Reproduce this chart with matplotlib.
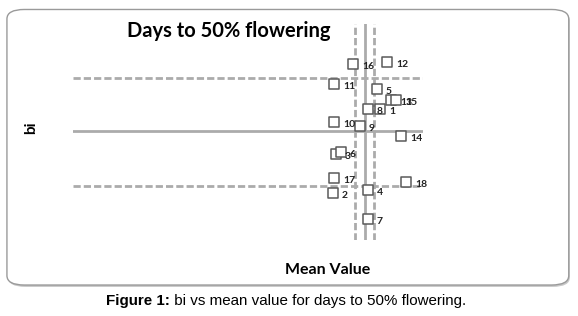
import matplotlib
matplotlib.use('Agg')
import matplotlib.pyplot as plt
from matplotlib.patches import FancyBboxPatch

# genotypes: mean days to 50% flowering and regression coefficient (bi)
genotipos = ['1', '2', '3', '4', '5', '6', '7', '8', '9', '10',
             '11', '12', '13', '14', '15', '16', '17', '18']
media = [61.5, 56.8, 57.1, 60.3, 61.2, 57.6, 60.3, 60.3, 59.5, 56.9,
         56.9, 62.2, 62.6, 63.6, 63.1, 58.8, 56.9, 64.1]
bi = [1.22, 0.38, 0.77, 0.41, 1.42, 0.79, 0.12, 1.22, 1.05, 1.09,
      1.47, 1.69, 1.31, 0.95, 1.31, 1.67, 0.53, 0.49]

media_geral = 60.0
media_lim = [59.0, 60.9]
bi_ref = 1.0
bi_lim = [1.53, 0.45]

fig = plt.figure(figsize=(5.78, 3.16), dpi=100)

# moldura arredondada
sombra = FancyBboxPatch((0.014, 0.092), 0.972, 0.872,
                        boxstyle='round,pad=0,rounding_size=0.03',
                        transform=fig.transFigure, facecolor='#c8c8c8',
                        edgecolor='none', zorder=0)
moldura = FancyBboxPatch((0.012, 0.098), 0.972, 0.872,
                         boxstyle='round,pad=0,rounding_size=0.03',
                         transform=fig.transFigure, facecolor='white',
                         edgecolor='#9a9a9a', linewidth=1.0, zorder=1)
fig.patches.extend([sombra, moldura])

ax = fig.add_axes([0.1263, 0.2405, 0.6055, 0.6835])
ax.set_zorder(2)
ax.patch.set_visible(False)
ax.set_xlim(30.8, 65.8)
ax.set_ylim(-0.09, 2.07)
ax.axis('off')

cinza = '#ababab'
tracejado = (0, (2.6, 1.1))
ax.axvline(media_geral, color=cinza, lw=2)
for v in media_lim:
    ax.axvline(v, color=cinza, lw=2, ls=tracejado)
ax.axhline(bi_ref, color=cinza, lw=2)
for h in bi_lim:
    ax.axhline(h, color=cinza, lw=2, ls=tracejado)

ax.scatter(media, bi, marker='s', s=52, facecolor='white',
           edgecolor='#5a5a5a', linewidths=1.1, zorder=3)
for g, x, y in zip(genotipos, media, bi):
    ax.annotate(g, (x, y), xytext=(6.5, -1.5), textcoords='offset points',
                fontsize=7.5, fontweight='bold', color='#222222',
                family='Lato', va='center', zorder=4)

fig.text(0.395, 0.903, 'Days to 50% flowering', ha='center', va='center',
         fontsize=14.5, fontweight='bold', family='Lato')
fig.text(0.053, 0.595, 'bi', ha='center', va='center', rotation=90,
         fontsize=11, fontweight='bold', family='Lato')
fig.text(0.566, 0.145, 'Mean Value', ha='center', va='center',
         fontsize=11.5, fontweight='bold', family='Lato')

# legenda: parte em negrito + resto
x0 = 106 / 578
t1 = fig.text(x0, 0.047, 'Figure 1:', ha='left', va='center',
              fontsize=10.9, fontweight='bold', family='Liberation Sans')
fig.canvas.draw()
bb = t1.get_window_extent()
fig.text(bb.x1 / fig.bbox.width, 0.047, ' bi vs mean value for days to 50% flowering.',
         ha='left', va='center', fontsize=10.9, family='Liberation Sans')

fig.savefig('out.png', dpi=100)
